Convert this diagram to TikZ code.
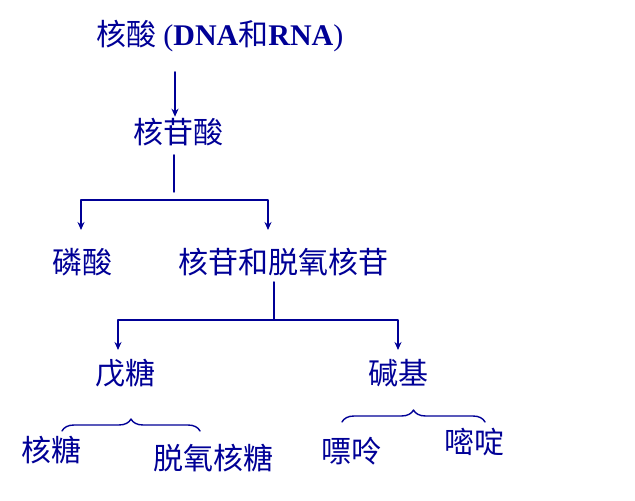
\documentclass[tikz,border=0pt]{standalone}
\usepackage{fontspec}
\setmainfont{Liberation Serif}
\newfontfamily\cjk{Noto Sans CJK SC}
\usetikzlibrary{arrows.meta,decorations.pathreplacing}
\definecolor{hsblue}{RGB}{0,0,150}
\begin{document}
\begin{tikzpicture}[x=0.5pt,y=-0.5pt,line join=round,line cap=round,
	>={Stealth[length=4pt,width=3.5pt]},
	lbl/.style={inner sep=0.5pt,text=hsblue,font=\cjk\fontsize{15}{18}\selectfont},
	con/.style={draw=hsblue,line width=0.75pt},
	brc/.style={draw=hsblue,line width=0.7pt,decorate,decoration={brace,amplitude=6pt,aspect=0.5}}] %核酸的组成
	\useasboundingbox (0,0) rectangle (635,501);
	\node[lbl] (nuc) at (220,36) {核酸 {\rmfamily(\textbf{DNA}}和{\rmfamily\textbf{RNA})}};
	\node[lbl] (ntd) at (178,132) {核苷酸};
	\node[lbl] (pho) at (82,262) {磷酸};
	\node[lbl] (nsd) at (283,262) {核苷和脱氧核苷};
	\node[lbl] (pen) at (125,373) {戊糖};
	\node[lbl] (bas) at (398,373) {碱基};
	\node[lbl] (rib) at (51,450) {核糖};
	\node[lbl] (dri) at (213,458) {脱氧核糖};
	\node[lbl] (pur) at (351,451) {嘌呤};
	\node[lbl] (pyr) at (474,442) {嘧啶};
	\coordinate (a1) at (175,72);
	\coordinate (s1) at (174,155);
	\coordinate (e1) at (174,192);
	\coordinate (j1) at (174,200);
	\coordinate (l1) at (81,230);
	\coordinate (r1) at (268,230);
	\coordinate (s2) at (274,282);
	\coordinate (j2) at (274,320);
	\coordinate (l2) at (118,350);
	\coordinate (r2) at (398,350);
	\draw[con,->] (a1) -- (ntd.north -| a1);
	\draw[con] (s1) -- (e1);
	\draw[con,->] (j1) -| (l1);
	\draw[con,->] (j1) -| (r1);
	\draw[con] (s2) -- (j2);
	\draw[con,->] (j2) -| (l2);
	\draw[con,->] (j2) -| (r2);
	\coordinate (b1) at (62,431);
	\coordinate (b2) at (200,431);
	\coordinate (b3) at (342,422);
	\coordinate (b4) at (485,422);
	\draw[brc] (b1) -- (b2);
	\draw[brc] (b3) -- (b4);
\end{tikzpicture}
\end{document}
